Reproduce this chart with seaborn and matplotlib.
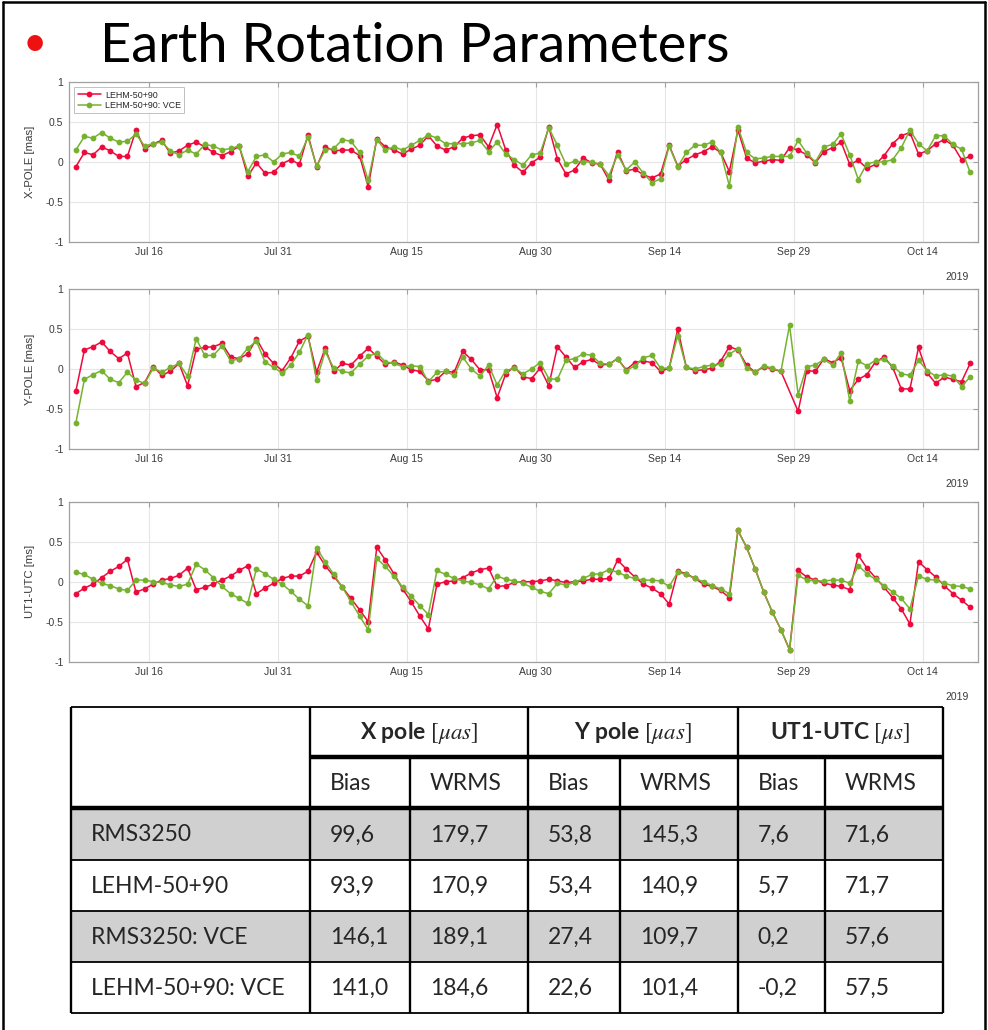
import numpy as np
import pandas as pd
import matplotlib
matplotlib.use("Agg")
import matplotlib.pyplot as plt
import matplotlib.dates as mdates
import matplotlib.ticker as mticker
from matplotlib.patches import Rectangle
import seaborn as sns

nan = np.nan

# daily solutions, first epoch at noon
start_date = "2019-07-07 12:00"

xpole_lehm = [
    -0.06, 0.12, 0.09, 0.19, 0.14, 0.07, 0.07, 0.40, 0.16, 0.23,
    0.27, 0.11, 0.14, 0.21, 0.25, 0.19, 0.12, 0.08, 0.13, 0.20,
    -0.18, -0.01, -0.14, -0.13, -0.02, 0.03, -0.03, 0.34, -0.06, 0.19,
    0.14, 0.15, 0.15, 0.08, -0.31, 0.29, 0.19, 0.15, 0.10, 0.16,
    0.21, 0.33, 0.20, 0.15, 0.19, 0.30, 0.33, 0.34, 0.19, 0.47,
    0.15, -0.04, -0.13, -0.01, 0.06, 0.44, 0.04, -0.15, -0.10, 0.05,
    -0.01, -0.03, -0.23, 0.13, -0.11, -0.09, -0.16, -0.20, -0.15, 0.21,
    -0.05, 0.03, 0.09, 0.13, 0.19, 0.12, -0.12, 0.40, 0.05, -0.01,
    0.01, 0.03, 0.02, 0.18, 0.15, 0.09, -0.01, 0.13, 0.18, 0.25,
    -0.03, 0.02, -0.08, -0.03, 0.08, 0.23, 0.33, 0.37, 0.10, 0.14,
    0.23, 0.28, 0.21, 0.03, 0.07]
xpole_vce = [
    0.15, 0.32, 0.30, 0.37, 0.30, 0.25, 0.26, 0.35, 0.20, 0.23,
    0.25, 0.14, 0.09, 0.15, 0.10, 0.22, 0.20, 0.15, 0.17, 0.20,
    -0.12, 0.07, 0.09, 0.00, 0.10, 0.12, 0.07, 0.31, -0.05, 0.15,
    0.17, 0.28, 0.26, 0.12, -0.23, 0.28, 0.15, 0.19, 0.15, 0.21,
    0.27, 0.34, 0.30, 0.23, 0.23, 0.23, 0.24, 0.27, 0.13, 0.25,
    0.10, 0.03, -0.04, 0.09, 0.11, 0.43, 0.21, -0.03, 0.01, 0.00,
    0.00, -0.03, -0.17, 0.09, -0.10, 0.00, -0.14, -0.26, -0.21, 0.20,
    -0.06, 0.12, 0.21, 0.21, 0.25, 0.12, -0.30, 0.44, 0.12, 0.04,
    0.05, 0.07, 0.07, 0.07, 0.27, 0.11, 0.00, 0.19, 0.22, 0.35,
    0.09, -0.22, -0.02, 0.00, 0.00, 0.03, 0.18, 0.40, 0.23, 0.14,
    0.33, 0.33, 0.22, 0.16, -0.13]

ypole_lehm = [
    -0.28, 0.24, 0.28, 0.34, 0.22, 0.13, 0.20, -0.22, -0.17, 0.03,
    -0.08, -0.03, 0.07, -0.21, 0.25, 0.27, 0.28, 0.32, 0.15, 0.13,
    0.19, 0.38, 0.19, 0.07, -0.02, 0.14, 0.35, 0.41, -0.04, 0.26,
    -0.03, 0.07, 0.05, 0.16, 0.26, 0.16, 0.06, 0.09, 0.05, -0.01,
    -0.03, -0.15, -0.13, -0.03, -0.04, 0.22, 0.12, -0.01, -0.01, -0.36,
    -0.06, 0.03, -0.10, -0.12, 0.01, -0.21, 0.28, 0.15, 0.02, 0.09,
    0.12, 0.05, 0.06, 0.13, -0.01, 0.08, 0.10, 0.08, -0.03, 0.01,
    0.50, 0.02, -0.02, -0.01, 0.01, 0.10, 0.28, 0.24, 0.05, -0.04,
    0.03, 0.00, -0.03, nan, -0.53, -0.02, -0.03, 0.13, 0.08, 0.14,
    -0.27, -0.13, -0.07, 0.09, 0.15, 0.02, -0.25, -0.25, 0.27, -0.05,
    -0.18, -0.10, -0.13, -0.16, 0.07]
ypole_vce = [
    -0.68, -0.13, -0.07, -0.02, -0.13, -0.17, -0.04, -0.14, -0.18, 0.01,
    -0.04, 0.02, 0.07, -0.09, 0.38, 0.17, 0.17, 0.29, 0.10, 0.13,
    0.26, 0.35, 0.09, 0.02, -0.05, 0.05, 0.21, 0.43, -0.14, 0.22,
    0.01, -0.03, -0.05, 0.06, 0.16, 0.20, 0.09, 0.07, 0.03, 0.04,
    0.03, -0.16, -0.04, -0.03, -0.08, 0.15, 0.00, -0.09, 0.05, -0.20,
    -0.02, 0.01, -0.06, 0.00, 0.08, -0.12, -0.13, 0.11, 0.13, 0.19,
    0.17, 0.07, 0.06, 0.13, -0.02, 0.04, 0.14, 0.17, 0.01, 0.01,
    0.42, 0.02, 0.00, 0.03, 0.05, 0.06, 0.19, 0.25, 0.01, -0.04,
    0.04, 0.01, -0.03, 0.55, -0.32, 0.03, 0.05, 0.12, 0.05, 0.20,
    -0.40, 0.10, 0.04, 0.11, 0.12, 0.04, -0.06, -0.08, 0.11, -0.02,
    -0.09, -0.07, -0.09, -0.22, -0.10]

ut1_lehm = [
    -0.15, -0.08, -0.03, 0.05, 0.13, 0.19, 0.28, -0.13, -0.09, -0.03,
    0.02, 0.04, 0.08, 0.17, -0.10, -0.07, -0.03, 0.02, 0.07, 0.14,
    0.20, -0.15, -0.08, -0.02, 0.04, 0.07, 0.07, 0.13, 0.37, 0.20,
    0.07, -0.07, -0.21, -0.35, -0.50, 0.43, 0.27, 0.10, -0.09, -0.25,
    -0.43, -0.59, -0.03, 0.00, 0.01, 0.05, 0.11, 0.15, 0.17, -0.06,
    -0.05, -0.01, 0.00, 0.00, 0.01, 0.03, 0.01, -0.01, 0.00, 0.01,
    0.03, 0.03, 0.04, 0.27, 0.16, 0.06, -0.03, -0.08, -0.15, -0.28,
    0.13, 0.10, 0.04, -0.03, -0.06, -0.11, -0.20, 0.64, 0.43, 0.16,
    -0.13, -0.38, -0.60, -0.85, 0.14, 0.06, 0.02, -0.02, -0.04, -0.06,
    -0.10, 0.33, 0.17, 0.05, -0.07, -0.20, -0.34, -0.53, 0.25, 0.15,
    0.06, -0.05, -0.15, -0.23, -0.32]
ut1_vce = [
    0.12, 0.09, 0.03, -0.02, -0.05, -0.09, -0.11, 0.02, 0.02, 0.00,
    -0.01, -0.04, -0.06, -0.03, 0.22, 0.15, 0.05, -0.06, -0.15, -0.21,
    -0.27, 0.16, 0.10, 0.03, -0.03, -0.12, -0.22, -0.30, 0.42, 0.25,
    0.09, -0.07, -0.25, -0.43, -0.60, 0.29, 0.19, 0.07, -0.07, -0.18,
    -0.30, -0.41, 0.14, 0.09, 0.04, 0.01, -0.01, -0.04, -0.09, 0.07,
    0.03, 0.01, -0.02, -0.07, -0.12, -0.15, -0.02, -0.04, -0.01, 0.04,
    0.09, 0.10, 0.15, 0.12, 0.07, 0.04, 0.02, 0.02, 0.01, -0.06,
    0.12, 0.09, 0.04, 0.00, -0.05, -0.09, -0.15, 0.64, 0.43, 0.16,
    -0.13, -0.38, -0.60, -0.85, 0.08, 0.02, 0.01, 0.01, 0.02, 0.02,
    -0.02, 0.20, 0.10, 0.03, -0.05, -0.13, -0.21, -0.34, 0.07, 0.03,
    0.02, -0.02, -0.05, -0.06, -0.09]

series_names = ["LEHM-50+90", "LEHM-50+90: VCE"]
series_colors = ["#ee0a3c", "#76b230"]
panel_ylabels = ["X-POLE [mas]", "Y-POLE [mas]", "UT1-UTC [ms]"]
tick_dates = ["2019-07-16", "2019-07-31", "2019-08-15", "2019-08-30",
              "2019-09-14", "2019-09-29", "2019-10-14"]
y_ticks = [-1, -0.5, 0, 0.5, 1]
y_ticklabels = ["-1", "-0.5", "0", "0.5", "1"]

# table
table_rows = ["RMS3250", "LEHM-50+90", "RMS3250: VCE", "LEHM-50+90: VCE"]
table_groups = [r"X pole $[\mu as]$", r"Y pole $[\mu as]$", r"UT1-UTC $[\mu s]$"]
table_subcols = ["Bias", "WRMS"]
xpole_bias = [99.6, 93.9, 146.1, 141.0]
xpole_wrms = [179.7, 170.9, 189.1, 184.6]
ypole_bias = [53.8, 53.4, 27.4, 22.6]
ypole_wrms = [145.3, 140.9, 109.7, 101.4]
ut1_bias = [7.6, 5.7, 0.2, -0.2]
ut1_wrms = [71.6, 71.7, 57.6, 57.5]


def panel_frame(lehm, vce):
    dates = pd.date_range(start_date, periods=len(lehm), freq="D")
    a = pd.DataFrame({"date": dates, "value": lehm, "solution": series_names[0]})
    b = pd.DataFrame({"date": dates, "value": vce, "solution": series_names[1]})
    # missing epochs are skipped, the line joins the neighbours
    return pd.concat([a, b], ignore_index=True).dropna()


sns.set_style("white")
plt.rcParams["font.family"] = ["Liberation Sans", "DejaVu Sans"]
plt.rcParams["axes.unicode_minus"] = False
plt.rcParams["mathtext.fontset"] = "stix"

W, H = 988, 1030
fig = plt.figure(figsize=(W / 100, H / 100), dpi=100)

# pixel boxes of the three panels: left, top, right, bottom
panel_boxes = [(69, 82.3, 978, 241.7), (69, 289.3, 978, 448.7), (69, 501.7, 978, 661.7)]
panel_data = [(xpole_lehm, xpole_vce), (ypole_lehm, ypole_vce), (ut1_lehm, ut1_vce)]

x_lo = pd.Timestamp("2019-07-06 17:00")
x_hi = pd.Timestamp("2019-10-20 10:00")
axis_grey = "#a0a0a0"
label_grey = "#3a3a3a"

for k, (box, (lehm, vce)) in enumerate(zip(panel_boxes, panel_data)):
    l, t, r, b = box
    ax = fig.add_axes([l / W, 1 - b / H, (r - l) / W, (b - t) / H])
    df = panel_frame(lehm, vce)
    sns.lineplot(data=df, x="date", y="value", hue="solution",
                 hue_order=series_names, palette=series_colors,
                 marker="o", markersize=4.2, markeredgewidth=0,
                 linewidth=1.1, ax=ax, legend=(k == 0))
    ax.set_xlim(x_lo, x_hi)
    ax.set_ylim(-1, 1)
    ax.xaxis.set_major_locator(mticker.FixedLocator(mdates.date2num(pd.to_datetime(tick_dates))))
    ax.xaxis.set_major_formatter(mdates.DateFormatter("%b %d"))
    ax.set_yticks(y_ticks)
    ax.set_yticklabels(y_ticklabels)
    ax.grid(True, color="#e6e6e6", linewidth=0.8)
    ax.set_axisbelow(True)
    for s in ax.spines.values():
        s.set_color(axis_grey)
        s.set_linewidth(0.9)
    ax.tick_params(direction="in", length=3.5, width=0.8, color=axis_grey,
                   labelsize=7.5, labelcolor=label_grey, pad=4,
                   top=True, right=True)
    ax.set_xlabel("")
    ax.set_ylabel(panel_ylabels[k], fontsize=8.2, color=label_grey)
    ax.yaxis.set_label_coords(-(l - 35) / (r - l), 0.5)
    ax.text(0.99, -35 / (b - t), "2019", transform=ax.transAxes,
            ha="right", va="center", fontsize=7.5, color=label_grey)
    if k == 0:
        handles, labels = ax.get_legend_handles_labels()
        leg = ax.legend(handles, labels, loc="upper left",
                        bbox_to_anchor=(0.006, 0.968), borderaxespad=0,
                        fontsize=6.4, frameon=True, fancybox=False,
                        handlelength=2.6, handletextpad=0.5,
                        borderpad=0.35, labelspacing=0.2)
        leg.get_frame().set_edgecolor("#b0b0b0")
        leg.get_frame().set_linewidth(0.7)

# overlay in pixel coordinates for slide title, frame and table
ov = fig.add_axes([0, 0, 1, 1])
ov.set_xlim(0, W)
ov.set_ylim(H, 0)
ov.axis("off")

# slide frame
ov.plot([3, 3], [2, H], color="black", lw=1.8, clip_on=False)
ov.plot([3, 985], [2, 2], color="black", lw=1.8, clip_on=False)
ov.plot([985, 985], [2, H], color="black", lw=1.8, clip_on=False)

ov.text(35, 44, "\u2022", color="#ee1111", fontsize=30, family=["Lato", "DejaVu Sans"],
        ha="center", va="center")
ov.text(100, 62, "Earth Rotation Parameters", fontsize=39,
        family=["Lato", "DejaVu Sans"], va="baseline", color="black")

col_edges = [70.7, 310, 410, 528, 620, 737.5, 825, 942.7]
row_edges = [706.7, 756.7, 808.3, 859.5, 910.7, 961.7, 1013]
tfont = ["Lato", "DejaVu Sans"]
tsize = 16.5

# grey rows
for i in (0, 2):
    y0 = row_edges[2 + i]
    ov.add_patch(Rectangle((col_edges[0], y0), col_edges[-1] - col_edges[0],
                           row_edges[3 + i] - y0, facecolor="#d0d0d0",
                           edgecolor="none", zorder=1))

thin, thick = 1.3, 3.2
ov.hlines(row_edges[0], col_edges[0], col_edges[-1], color="black", lw=thin, zorder=3)
ov.hlines(row_edges[1], col_edges[1], col_edges[-1], color="black", lw=thick, zorder=3)
ov.hlines(row_edges[2], col_edges[0], col_edges[-1], color="black", lw=thick, zorder=3)
for y in row_edges[3:]:
    ov.hlines(y, col_edges[0], col_edges[-1], color="black", lw=thin, zorder=3)
for j, x in enumerate(col_edges):
    top = row_edges[1] if j in (2, 4, 6) else row_edges[0]
    ov.vlines(x, top, row_edges[-1], color="black", lw=thin * 1.3, zorder=3)

# headers
for g, label in enumerate(table_groups):
    x0, x1 = col_edges[1 + 2 * g], col_edges[3 + 2 * g]
    ov.text((x0 + x1) / 2, (row_edges[0] + row_edges[1]) / 2 + 1, label,
            ha="center", va="center", fontsize=tsize, family=tfont,
            fontweight="bold", zorder=4)
    for s, sub in enumerate(table_subcols):
        ov.text(col_edges[1 + 2 * g + s] + 20, (row_edges[1] + row_edges[2]) / 2 + 1,
                sub, ha="left", va="center", fontsize=tsize, family=tfont, zorder=4)

table_cols = [xpole_bias, xpole_wrms, ypole_bias, ypole_wrms, ut1_bias, ut1_wrms]
for i, name in enumerate(table_rows):
    yc = (row_edges[2 + i] + row_edges[3 + i]) / 2 + 1
    ov.text(col_edges[0] + 20, yc, name, ha="left", va="center",
            fontsize=tsize, family=tfont, zorder=4)
    for j, col in enumerate(table_cols):
        txt = f"{col[i]:.1f}".replace(".", ",")
        ov.text(col_edges[1 + j] + 20, yc, txt, ha="left", va="center",
                fontsize=tsize, family=tfont, zorder=4)

fig.savefig("out.png", dpi=100)
